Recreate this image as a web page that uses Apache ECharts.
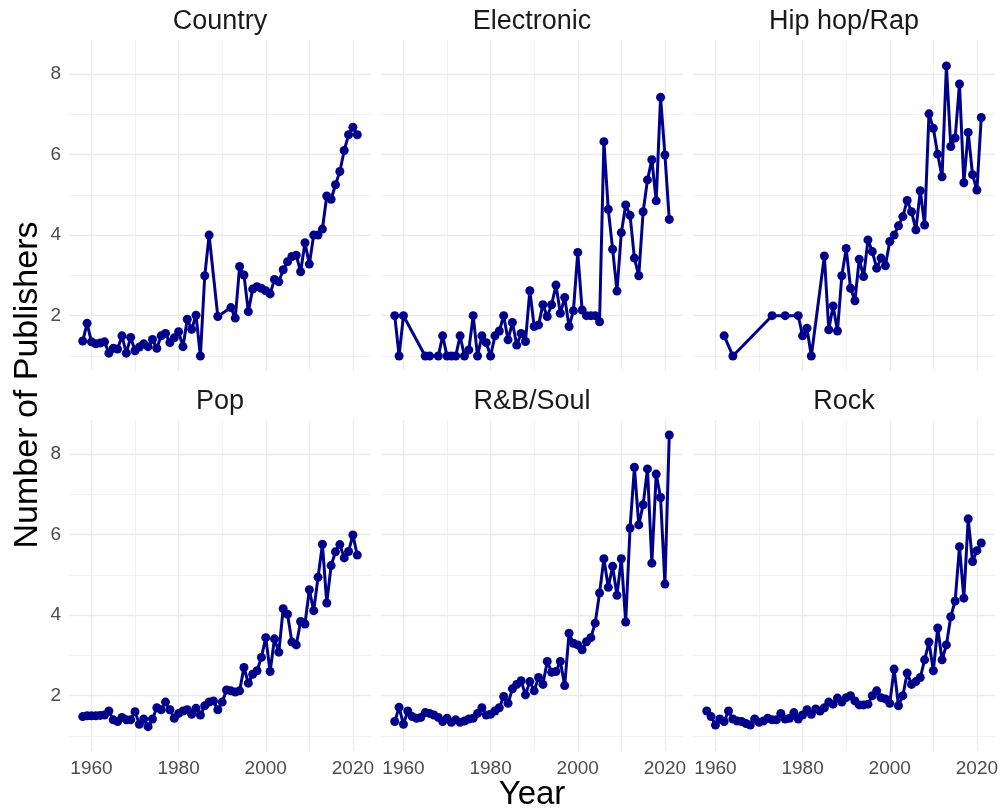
<!DOCTYPE html>
<html>
<head>
<meta charset="utf-8">
<title>Number of Publishers by Genre</title>
<script src="https://cdn.jsdelivr.net/npm/echarts@6/dist/echarts.min.js"></script>
<style>
  html, body { margin: 0; padding: 0; background: #ffffff; }
  #chart { width: 1004px; height: 812px; }
</style>
</head>
<body>
<div id="chart"></div>
<script>
// ---- data: average number of publishers per year, by genre ----
const genreNames = ['Country', 'Electronic', 'Hip hop/Rap', 'Pop', 'R&B/Soul', 'Rock'];

const countryYears = [1958,1959,1960,1961,1962,1963,1964,1965,1966,1967,1968,1969,1970,1971,1972,1973,1974,1975,1976,1977,1978,1979,1980,1981,1982,1983,1984,1985,1986,1987,1989,1992,1993,1994,1995,1996,1997,1998,1999,2000,2001,2002,2003,2004,2005,2006,2007,2008,2009,2010,2011,2012,2013,2014,2015,2016,2017,2018,2019,2020,2021];
const countryValues = [1.37,1.81,1.35,1.30,1.32,1.35,1.07,1.19,1.17,1.50,1.07,1.46,1.13,1.22,1.30,1.23,1.41,1.19,1.50,1.56,1.33,1.45,1.60,1.23,1.91,1.66,2.01,1.00,2.99,4.00,1.98,2.20,1.94,3.22,3.01,2.10,2.66,2.72,2.68,2.62,2.54,2.90,2.84,3.14,3.34,3.47,3.50,3.09,3.81,3.28,4.00,4.00,4.15,4.97,4.89,5.25,5.58,6.10,6.49,6.68,6.49];

const electronicYears = [1958,1959,1960,1965,1966,1968,1969,1970,1971,1972,1973,1974,1975,1976,1977,1978,1979,1980,1981,1982,1983,1984,1985,1986,1987,1988,1989,1990,1991,1992,1993,1994,1995,1996,1997,1998,1999,2000,2001,2002,2003,2004,2005,2006,2007,2008,2009,2010,2011,2012,2013,2014,2015,2016,2017,2018,2019,2020,2021];
const electronicValues = [2.00,1.00,2.00,1.00,1.00,1.00,1.50,1.00,1.00,1.00,1.50,1.00,1.15,2.00,1.00,1.50,1.33,1.00,1.50,1.62,2.00,1.40,1.83,1.27,1.56,1.36,2.62,1.73,1.77,2.27,1.98,2.27,2.76,2.06,2.45,1.73,2.12,3.57,2.14,2.00,2.00,2.00,1.85,6.32,4.64,3.65,2.61,4.06,4.75,4.49,3.43,2.99,4.58,5.37,5.87,4.85,7.42,5.99,4.39];

const hiphopYears = [1962,1964,1973,1976,1979,1980,1981,1982,1985,1986,1987,1988,1989,1990,1991,1992,1993,1994,1995,1996,1997,1998,1999,2000,2001,2002,2003,2004,2005,2006,2007,2008,2009,2010,2011,2012,2013,2014,2015,2016,2017,2018,2019,2020,2021];
const hiphopValues = [1.50,1.00,2.00,2.00,2.00,1.50,1.69,1.00,3.48,1.65,2.24,1.62,2.99,3.67,2.68,2.37,3.40,2.97,3.88,3.59,3.18,3.43,3.24,3.84,4.00,4.23,4.46,4.86,4.58,4.13,5.10,4.25,7.01,6.65,6.01,5.45,8.20,6.20,6.41,7.75,5.30,6.55,5.50,5.12,6.92];

const popYears = [1958,1959,1960,1961,1962,1963,1964,1965,1966,1967,1968,1969,1970,1971,1972,1973,1974,1975,1976,1977,1978,1979,1980,1981,1982,1983,1984,1985,1986,1987,1988,1989,1990,1991,1992,1993,1994,1995,1996,1997,1998,1999,2000,2001,2002,2003,2004,2005,2006,2007,2008,2009,2010,2011,2012,2013,2014,2015,2016,2017,2018,2019,2020,2021];
const popValues = [1.48,1.50,1.50,1.50,1.51,1.52,1.62,1.40,1.36,1.46,1.40,1.40,1.60,1.29,1.42,1.23,1.42,1.70,1.65,1.84,1.65,1.44,1.56,1.62,1.65,1.54,1.69,1.52,1.75,1.84,1.87,1.65,1.84,2.14,2.12,2.09,2.12,2.70,2.31,2.53,2.62,2.95,3.44,2.60,3.41,3.08,4.16,4.02,3.33,3.26,3.84,3.78,4.63,4.11,4.94,5.76,4.30,5.23,5.57,5.75,5.42,5.58,5.99,5.49];

const rnbYears = popYears;
const rnbValues = [1.36,1.71,1.29,1.62,1.48,1.44,1.46,1.58,1.56,1.52,1.46,1.36,1.44,1.34,1.40,1.34,1.37,1.42,1.44,1.56,1.70,1.52,1.54,1.62,1.70,1.98,1.81,2.17,2.28,2.37,2.02,2.35,2.12,2.45,2.28,2.85,2.58,2.60,2.85,2.25,3.55,3.30,3.26,3.14,3.34,3.44,3.80,4.55,5.40,4.69,5.21,4.49,5.40,3.83,6.16,7.67,6.24,6.74,7.63,5.29,7.50,6.92,4.77,8.47];

const rockYears = popYears;
const rockValues = [1.62,1.48,1.27,1.42,1.36,1.62,1.42,1.37,1.36,1.31,1.27,1.42,1.34,1.37,1.44,1.40,1.40,1.56,1.42,1.44,1.58,1.42,1.52,1.65,1.54,1.67,1.62,1.70,1.84,1.79,1.94,1.84,1.95,2.00,1.87,1.77,1.77,1.79,2.00,2.12,1.95,1.92,1.81,2.66,1.75,2.00,2.56,2.28,2.35,2.45,2.89,3.33,2.62,3.68,2.89,3.26,3.96,4.35,5.70,4.42,6.39,5.33,5.60,5.79];

// axis ticks and grid values
const xTickLabels = [1960, 1980, 2000, 2020];
const xMinorGrid = [1970, 1990, 2010];
const yTickLabels = [2, 4, 6, 8];
const yMinorGrid = [1, 3, 5, 7];

// ---- layout & style ----
const X_MIN = 1954.85, X_MAX = 2024.15;
const Y_MIN = 0.6265, Y_MAX = 8.8435;
const FONT = "'Liberation Sans', Arial, Helvetica, sans-serif";
const LINE_COLOR = '#00008B';
const GRID_COLOR = '#EBEBEB';

const panelLefts = [69, 381, 693];
const panelTops = [40, 420];
const PANEL_W = 302, PANEL_H = 331;

const seriesData = [
  [countryYears, countryValues],
  [electronicYears, electronicValues],
  [hiphopYears, hiphopValues],
  [popYears, popValues],
  [rnbYears, rnbValues],
  [rockYears, rockValues]
];

const grids = [], xAxes = [], yAxes = [], series = [], graphics = [];

genreNames.forEach((name, i) => {
  const col = i % 3, row = Math.floor(i / 3);
  const left = panelLefts[col], top = panelTops[row];
  grids.push({ left: left, top: top, width: PANEL_W, height: PANEL_H, containLabel: false });

  xAxes.push({
    type: 'value', gridIndex: i, min: X_MIN, max: X_MAX,
    axisLine: { show: false }, axisTick: { show: false }, splitLine: { show: false },
    axisLabel: {
      show: row === 1, customValues: xTickLabels, margin: 8,
      formatter: v => String(v),
      fontSize: 19, color: '#4D4D4D', fontFamily: FONT
    }
  });
  yAxes.push({
    type: 'value', gridIndex: i, min: Y_MIN, max: Y_MAX,
    axisLine: { show: false }, axisTick: { show: false }, splitLine: { show: false },
    axisLabel: {
      show: col === 0, customValues: yTickLabels, margin: 8,
      formatter: v => String(v),
      fontSize: 19, color: '#4D4D4D', fontFamily: FONT
    }
  });

  // background grid lines (major + minor), kept beneath the data line
  const major = { color: GRID_COLOR, width: 1.3, type: 'solid' };
  const minor = { color: GRID_COLOR, width: 0.7, type: 'solid' };
  const gl = [];
  xTickLabels.forEach(v => gl.push({ xAxis: v, lineStyle: major }));
  xMinorGrid.forEach(v => gl.push({ xAxis: v, lineStyle: minor }));
  yTickLabels.forEach(v => gl.push({ yAxis: v, lineStyle: major }));
  yMinorGrid.forEach(v => gl.push({ yAxis: v, lineStyle: minor }));
  series.push({
    type: 'line', xAxisIndex: i, yAxisIndex: i, data: [], z: 0, silent: true,
    markLine: {
      z: 0, silent: true, symbol: ['none', 'none'], label: { show: false },
      animation: false, data: gl
    }
  });

  const [yrs, vals] = seriesData[i];
  series.push({
    name: name, type: 'line', xAxisIndex: i, yAxisIndex: i, z: 10,
    data: yrs.map((y, k) => [y, vals[k]]),
    symbol: 'circle', symbolSize: 9, showSymbol: true,
    lineStyle: { color: LINE_COLOR, width: 3 },
    itemStyle: { color: LINE_COLOR },
    animation: false
  });

  // facet strip title
  graphics.push({
    type: 'text', x: left + PANEL_W / 2, y: top - 18,
    style: {
      text: name, fontSize: 27, fontFamily: FONT, fill: '#1A1A1A',
      textAlign: 'center', textVerticalAlign: 'middle'
    }
  });
});

// axis titles
graphics.push({
  type: 'text', x: 532, y: 795,
  style: { text: 'Year', fontSize: 33, fontFamily: FONT, fill: '#000000',
           textAlign: 'center', textVerticalAlign: 'middle' }
});
graphics.push({
  type: 'text', x: 28, y: 385, rotation: Math.PI / 2,
  style: { text: 'Number of Publishers', fontSize: 34, fontFamily: FONT, fill: '#000000',
           textAlign: 'center', textVerticalAlign: 'middle' }
});

const chart = echarts.init(document.getElementById('chart'), null, { renderer: 'canvas' });
chart.setOption({
  backgroundColor: '#ffffff',
  animation: false,
  grid: grids,
  xAxis: xAxes,
  yAxis: yAxes,
  series: series,
  graphic: graphics
});
</script>
</body>
</html>
